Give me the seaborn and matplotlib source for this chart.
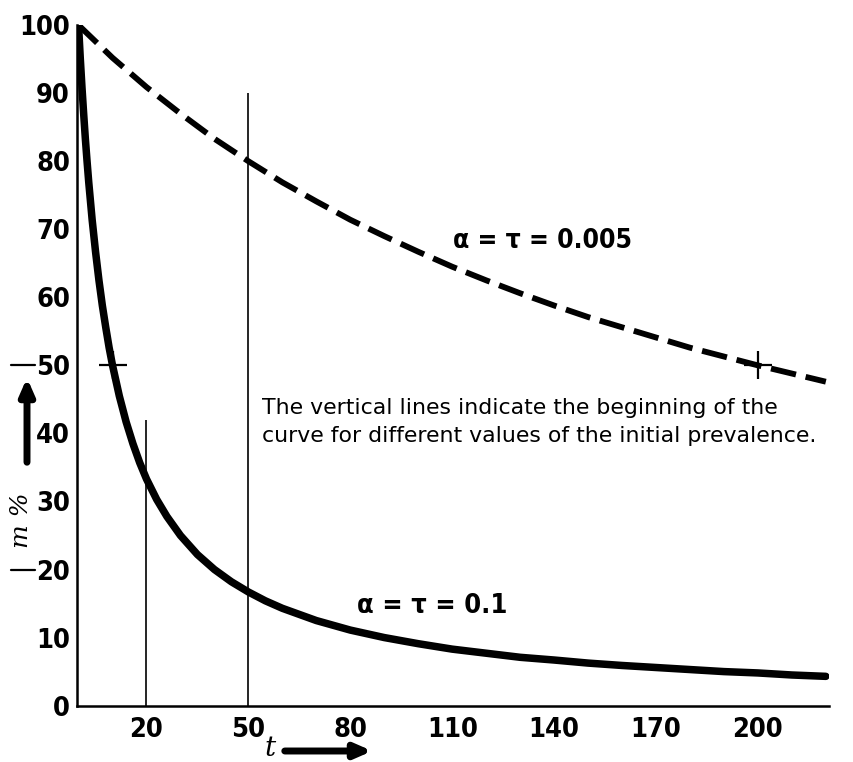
import os
import numpy as np
import pandas as pd
import seaborn as sns
import matplotlib.pyplot as plt
from matplotlib import font_manager
from matplotlib.font_manager import FontProperties
from matplotlib.transforms import blended_transform_factory

# ---- data ----
t_fast = [0, 0.5, 1, 1.5, 2, 2.5, 3, 4, 5, 6, 7, 8, 9, 10, 12, 14, 16, 18, 20, 23, 26,
          30, 35, 40, 45, 50, 55, 60, 70, 80, 90, 100, 110, 120, 130, 140, 150, 160,
          170, 180, 190, 200, 210, 220]
m_fast = [100, 95.2, 90.9, 87, 83.3, 80, 76.9, 71.4, 66.7, 62.5, 58.8, 55.6, 52.6, 50,
          45.5, 41.7, 38.5, 35.7, 33.3, 30.3, 27.8, 25, 22.2, 20, 18.2, 16.7, 15.4,
          14.3, 12.5, 11.1, 10, 9.1, 8.3, 7.7, 7.1, 6.7, 6.25, 5.9, 5.6, 5.3, 5, 4.8,
          4.5, 4.3]
t_slow = [0, 10, 20, 30, 40, 50, 60, 70, 80, 90, 100, 110, 120, 130, 140, 150, 160,
          170, 180, 190, 200, 210, 220]
m_slow = [100, 95.2, 90.9, 87, 83.3, 80, 76.9, 74.1, 71.4, 69, 66.7, 64.5, 62.5, 60.6,
          58.8, 57.1, 55.6, 54.1, 52.6, 51.3, 50, 48.8, 47.6]
label_fast = "α = τ = 0.1"
label_slow = "α = τ = 0.005"
vline_t = [20, 50]
vline_top = [42, 90]
cross_t = [10, 200]
cross_m = [50, 50]
x_ticks = [20, 50, 80, 110, 140, 170, 200]
y_ticks = [0, 10, 20, 30, 40, 50, 60, 70, 80, 90, 100]
note = ("The vertical lines indicate the beginning of the\n"
        "curve for different values of the initial prevalence.")


def pick_font(preferred_files):
    files = {os.path.basename(f.fname): f.fname for f in font_manager.fontManager.ttflist}
    for name in preferred_files:
        if name in files:
            return files[name]
    for base, path in files.items():
        low = base.lower()
        if ("narrow" in low or "condensed" in low) and "bold" in low and "italic" not in low \
                and "oblique" not in low:
            return path
    return None


narrow_path = pick_font(["LiberationSansNarrow-Bold.ttf", "DejaVuSansCondensed-Bold.ttf",
                         "RobotoCondensed-Bold.ttf", "Roboto-Bold.ttf"])

sns.set_theme(style="white")
plt.rcParams['font.family'] = ['DejaVu Sans']
plt.rcParams['text.color'] = 'black'


def fprop(size):
    if narrow_path:
        return FontProperties(fname=narrow_path, size=size)
    return FontProperties(family="DejaVu Sans", weight="bold", size=size)


fig = plt.figure(figsize=(8.54, 7.62), dpi=100)
ax = fig.add_axes([0.090, 0.074, 0.881, 0.893])

df_fast = pd.DataFrame({"t": t_fast, "m": m_fast})
df_slow = pd.DataFrame({"t": t_slow, "m": m_slow})

sns.lineplot(data=df_fast, x="t", y="m", ax=ax, color="black", lw=5.4,
             estimator=None, sort=True, solid_capstyle="round")
sns.lineplot(data=df_slow, x="t", y="m", ax=ax, color="black", lw=4.2,
             estimator=None, sort=True)
ax.lines[-1].set_dashes([4.4, 1.7])

ax.vlines(vline_t, 0, vline_top, color="black", lw=1.2)
sns.scatterplot(x=cross_t, y=cross_m, ax=ax, marker="+", s=420,
                color="black", linewidth=1.6, zorder=5)

ax.set_xlim(-0.5, 221)
ax.set_ylim(0, 100)
ax.set_xticks(x_ticks)
ax.set_yticks(y_ticks)
ax.tick_params(direction="in", length=15, width=1.5, colors="black")
ax.tick_params(axis="x", pad=8)
ax.tick_params(axis="y", pad=5)
for lab in ax.get_xticklabels() + ax.get_yticklabels():
    lab.set_fontproperties(fprop(19.5))
for s in ["top", "right"]:
    ax.spines[s].set_visible(False)
for s in ["left", "bottom"]:
    ax.spines[s].set_linewidth(1.8)
    ax.spines[s].set_color("black")
ax.set_xlabel("")
ax.set_ylabel("")

# curve labels
ax.text(0.50, 0.683, label_slow, transform=ax.transAxes, ha="left", va="center",
        fontproperties=fprop(19))
ax.text(0.372, 0.146, label_fast, transform=ax.transAxes, ha="left", va="center",
        fontproperties=fprop(19.5))

# note
fig.text(262/854, 1-422/762, note, fontsize=15.8, ha="left", va="center",
         family=["DejaVu Sans"], linespacing=1.45, color="black")

# axis labels with arrows
bt = blended_transform_factory(ax.transAxes, ax.transData)
for yv in [50, 20]:
    ax.plot([-0.088, -0.056], [yv, yv], color="black", lw=1.6,
            transform=bt, clip_on=False)
fig.text(22/854, 1-520/762, "m %", rotation=90, fontsize=18, ha="center",
         va="center", style="italic", family=["DejaVu Serif"])
ax.annotate("", xy=(27/854, 1-375/762), xytext=(27/854, 1-465/762),
            xycoords="figure fraction", textcoords="figure fraction",
            arrowprops=dict(arrowstyle="-|>,head_length=0.8,head_width=0.35",
                            lw=5, color="black"))
fig.text(270/854, 1-748/762, "t", fontsize=20, ha="center", va="center",
         style="italic", family=["DejaVu Serif"])
ax.annotate("", xy=(375/854, 1-751/762), xytext=(282/854, 1-751/762),
            xycoords="figure fraction", textcoords="figure fraction",
            arrowprops=dict(arrowstyle="-|>,head_length=0.8,head_width=0.35",
                            lw=5, color="black"))

fig.savefig("out.png", dpi=100)
